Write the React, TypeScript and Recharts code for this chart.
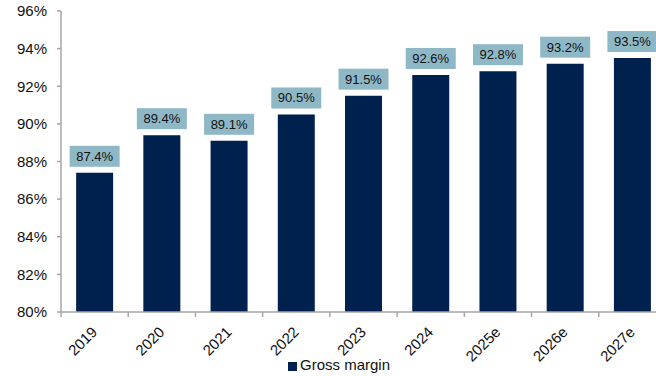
import React from "react";
import { BarChart, Bar, XAxis, YAxis, Legend, LabelList } from "recharts";

const categories = ["2019", "2020", "2021", "2022", "2023", "2024", "2025e", "2026e", "2027e"];
const grossMargin = [87.4, 89.4, 89.1, 90.5, 91.5, 92.6, 92.8, 93.2, 93.5];
const yTicks = [80, 82, 84, 86, 88, 90, 92, 94, 96];

const data = categories.map((c, i) => ({ year: c, gm: grossMargin[i] }));

const FONT = "'Liberation Sans', Arial, sans-serif";
const BAR = "#00214d";
const BOX = "#8fb8c6";
const AXIS = "#a6a6a6";

const CHART_W = 668;
const MARGIN = { top: 11, right: 2, left: 0, bottom: 0 };
const Y_W = 61;
const BAND = (CHART_W - MARGIN.left - MARGIN.right - Y_W) / categories.length;

const XTick = (props: any) => {
  const { x, y, payload } = props;
  const bx = x - BAND / 2;
  const ax = x + 3.5;
  const ay = y + 13;
  return (
    <g>
      <line x1={bx} y1={y - 8} x2={bx} y2={y - 3} stroke={AXIS} strokeWidth={1.5} />
      <text
        x={ax}
        y={ay}
        textAnchor="end"
        fontSize={15}
        fontFamily={FONT}
        fill="#111"
        transform={`rotate(-45, ${ax}, ${ay})`}
      >
        {payload.value}
      </text>
    </g>
  );
};

const ValueLabel = (props: any) => {
  const { x, y, width, value } = props;
  const cx = x + width / 2;
  const bw = 50;
  const bh = 21;
  const top = y - 6 - bh;
  return (
    <g>
      <rect x={cx - bw / 2} y={top} width={bw} height={bh} fill={BOX} />
      <text
        x={cx}
        y={top + bh / 2 + 4.5}
        textAnchor="middle"
        fontSize={13}
        fontFamily={FONT}
        fill="#111"
      >
        {`${value.toFixed(1)}%`}
      </text>
    </g>
  );
};

export default function App() {
  return (
    <div style={{ position: "absolute", left: 0, top: 0, width: 656, height: 376, overflow: "hidden", background: "#fff" }}>
      <BarChart
        width={CHART_W}
        height={376}
        data={data}
        margin={MARGIN}
        barCategoryGap="22.5%"
      >
        <YAxis
          width={Y_W}
          domain={[80, 96]}
          ticks={yTicks}
          interval={0}
          tickFormatter={(v: number) => `${v}%`}
          axisLine={{ stroke: AXIS, strokeWidth: 1.5 }}
          tickLine={{ stroke: AXIS, strokeWidth: 1.5 }}
          tickSize={4}
          tickMargin={10}
          tick={{ fontSize: 15, fontFamily: FONT, fill: "#111" }}
          allowDataOverflow
        />
        <XAxis
          dataKey="year"
          height={44}
          interval={0}
          axisLine={{ stroke: AXIS, strokeWidth: 1.5 }}
          tickLine={false}
          tick={<XTick />}
        />
        <Legend
          verticalAlign="bottom"
          height={20}
          iconType="square"
          iconSize={9}
          wrapperStyle={{ fontFamily: FONT, fontSize: 15, left: 11 }}
          formatter={(v: string) => <span style={{ color: "#111", marginLeft: -1 }}>{v}</span>}
        />
        <Bar dataKey="gm" name="Gross margin" fill={BAR} isAnimationActive={false}>
          <LabelList dataKey="gm" content={<ValueLabel />} />
        </Bar>
      </BarChart>
    </div>
  );
}
